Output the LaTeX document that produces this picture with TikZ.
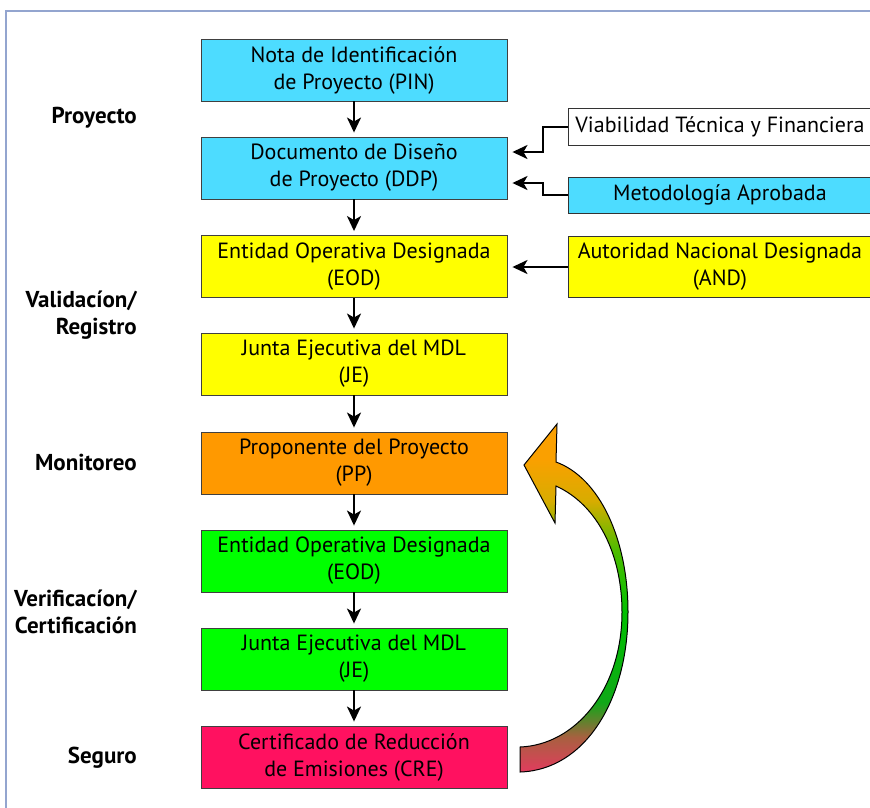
\documentclass[tikz,border=0pt]{standalone}
\usepackage{fontspec}
\setmainfont{PT Sans}
\usetikzlibrary{arrows.meta}
\definecolor{cyanbox}{HTML}{4DDCFF}
\definecolor{yellowbox}{HTML}{FFFF00}
\definecolor{orangebox}{HTML}{FF9900}
\definecolor{greenbox}{HTML}{00FF00}
\definecolor{redbox}{HTML}{FF1160}
\definecolor{framecol}{HTML}{93A5CF}
\definecolor{sA}{HTML}{E23C5E}
\definecolor{sB}{HTML}{A86040}
\definecolor{sC}{HTML}{10A818}
\definecolor{sD}{HTML}{00C000}
\definecolor{sE}{HTML}{50BC00}
\definecolor{sF}{HTML}{D8AC00}
\definecolor{sG}{HTML}{FAA000}
\pgfdeclareverticalshading{bigarrow}{100bp}{color(0bp)=(sA); color(25bp)=(sA); color(30bp)=(sB); color(35bp)=(sC); color(48bp)=(sD); color(57bp)=(sE); color(64bp)=(sF); color(70bp)=(sG); color(100bp)=(sG)}
\begin{document}
\begin{tikzpicture}[x=1pt,y=-1pt,
  box/.style={draw=black!75, line width=0.9pt, minimum width=306pt, minimum height=62pt, inner sep=0pt, align=center, font=\fontsize{22}{27}\selectfont},
  rbox/.style={draw=black!80, line width=0.9pt, minimum width=303pt, inner sep=0pt, anchor=west, align=center, font=\fontsize{22}{27}\selectfont},
  conn/.style={line width=2pt, -{Stealth[length=15pt,width=14pt,inset=4pt]}},
  lab/.style={anchor=east, inner sep=0pt, align=right, font=\bfseries\fontsize{23}{27}\selectfont}]
\useasboundingbox (0,0) rectangle (870,807);
\fill[white] (0,0) rectangle (870,807);
\draw[color=framecol, line width=1.5pt] (6,812) -- (6,11) -- (876,11);

\node[box, fill=cyanbox] (pin) at (354,70) {Nota de Identificación\\de Proyecto (PIN)};
\node[box, fill=cyanbox] (ddp) at (354,168) {Documento de Diseño\\de Proyecto (DDP)};
\node[box, fill=yellowbox] (eodA) at (354,266.5) {Entidad Operativa Designada\\(EOD)};
\node[box, fill=yellowbox] (jeA) at (354,364) {Junta Ejecutiva del MDL\\(JE)};
\node[box, fill=orangebox] (pp) at (354,463) {Proponente del Proyecto\\(PP)};
\node[box, fill=greenbox] (eodB) at (354,561) {Entidad Operativa Designada\\(EOD)};
\node[box, fill=greenbox] (jeB) at (354,659) {Junta Ejecutiva del MDL\\(JE)};
\node[box, fill=redbox] (cre) at (354,757) {Certificado de Reducción\\de Emisiones (CRE)};

\node[rbox, fill=white, minimum height=37pt] (via) at (568,126.5) {Viabilidad Técnica y Financiera};
\node[rbox, fill=cyanbox, minimum height=36pt] (met) at (568,195) {Metodología Aprobada};
\node[rbox, fill=yellowbox, minimum height=61pt] (autnd) at (568,267) {Autoridad Nacional Designada\\(AND)};

\draw[conn, shorten >=4pt] (pin) -- (ddp);
\draw[conn, shorten >=4pt] (ddp) -- (eodA);
\draw[conn, shorten >=4pt] (eodA) -- (jeA);
\draw[conn, shorten >=4pt] (jeA) -- (pp);
\draw[conn, shorten >=4pt] (pp) -- (eodB);
\draw[conn, shorten >=4pt] (eodB) -- (jeB);
\draw[conn, shorten >=4pt] (jeB) -- (cre);

\draw[conn, shorten >=5pt] (via.west) -- ++(-25,0) |- ([yshift=16pt]ddp.east);
\draw[conn, shorten >=5pt] (met.west) -- ++(-25,0) |- ([yshift=-15pt]ddp.east);
\draw[conn, shorten >=5pt] (autnd.west) -- (autnd.west -| eodA.east);

\node[lab] (lproy) at (137,118) {Proyecto};
\node[lab] (lval) at (137,315.5) {Validacíon/\\Registro};
\node[lab] (lmon) at (137,462) {Monitoreo};
\node[lab] (lver) at (137,611.5) {Verificacíon/\\Certificación};
\node[lab] (lseg) at (137,758) {Seguro};

\path[shade, shading=bigarrow, draw=black, line width=1pt, line join=miter]
  (524,465) -- (557,424) -- (556,462)
  .. controls (600,478) and (628,540) .. (628,612)
  .. controls (628,700) and (585,770) .. (520,772)
  -- (520,747)
  .. controls (575,745) and (622,690) .. (622,612)
  .. controls (622,555) and (598,505) .. (556,486)
  -- (555,523) -- cycle;
\end{tikzpicture}
\end{document}
